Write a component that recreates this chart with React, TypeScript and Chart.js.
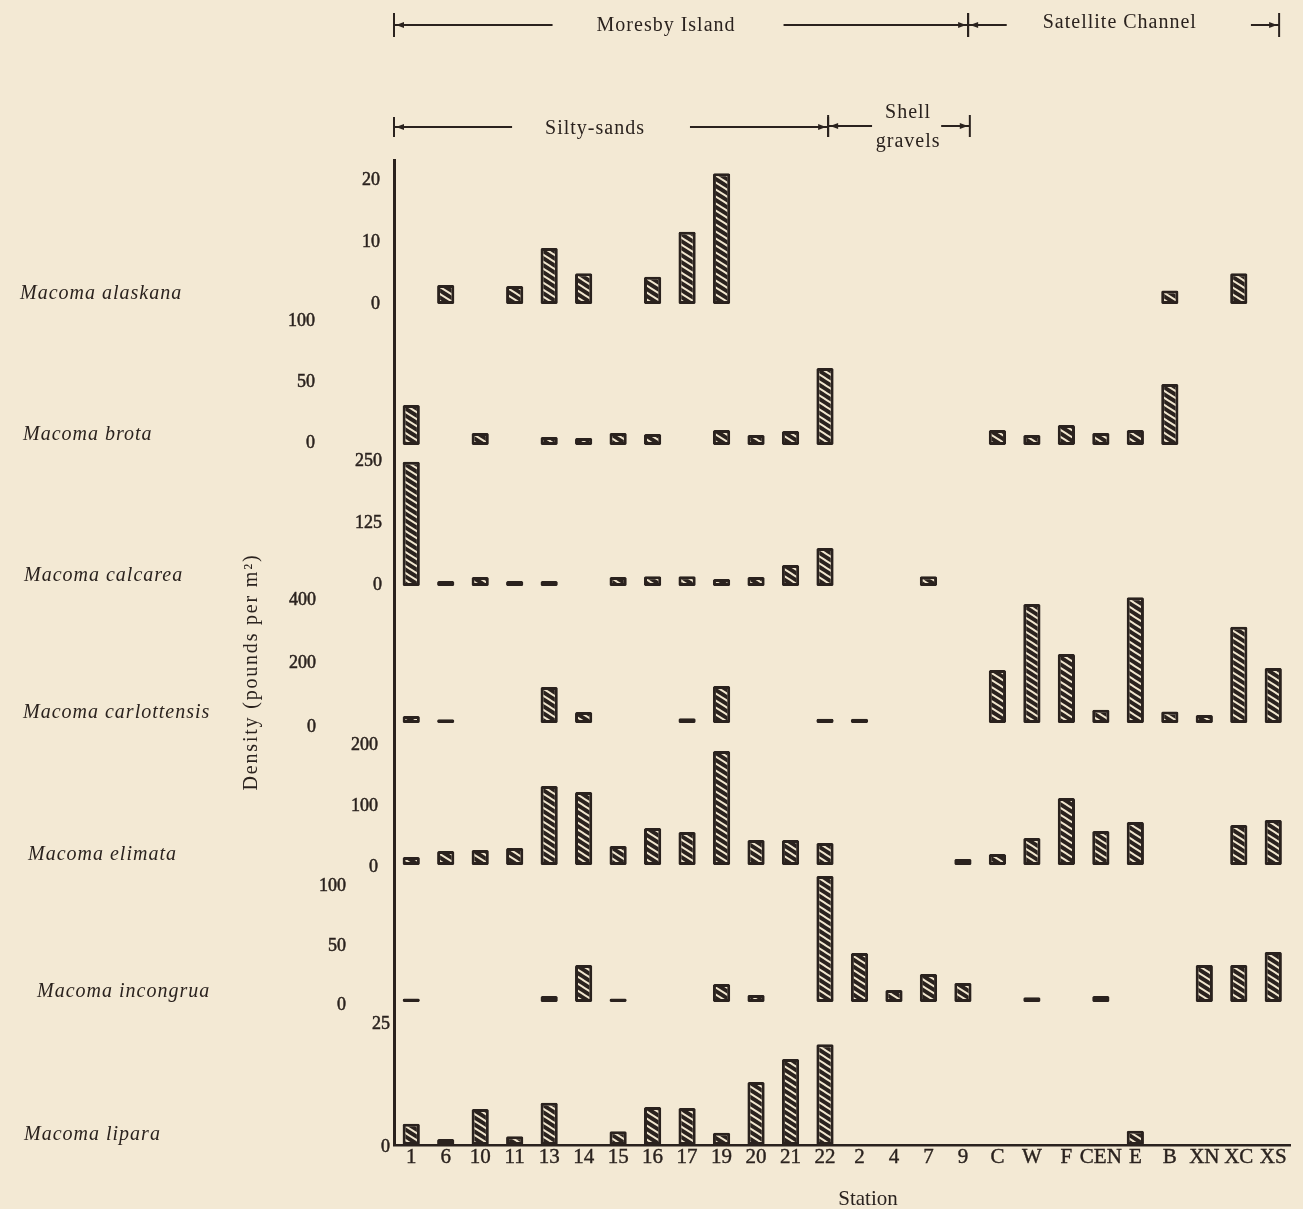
import React, { useEffect, useRef } from "react";
import { Chart, registerables } from "chart.js";

Chart.register(...registerables);

// ---------- data ----------
const stations = ["1", "6", "10", "11", "13", "14", "15", "16", "17", "19", "20", "21", "22", "2", "4", "7", "9", "C", "W", "F", "CEN", "E", "B", "XN", "XC", "XS"];

const speciesNames = ["Macoma alaskana", "Macoma brota", "Macoma calcarea", "Macoma carlottensis", "Macoma elimata", "Macoma incongrua", "Macoma lipara"];

//                1     6     10    11    13     14    15    16    17    19     20    21    22     2     4     7     9     C     W      F      CEN   E      B     XN    XC    XS
const alaskana = [null, 3.1, null, 2.9, 9.1, 5.0, null, 4.4, 11.7, 21.2, null, null, null, null, null, null, null, null, null, null, null, null, 2.2, null, 5.0, null];
const brota = [32.9, null, 9.9, null, 6.6, 5.8, 9.9, 9.0, null, 12.3, 8.2, 11.5, 63.3, null, null, null, null, 12.3, 8.2, 16.4, 9.9, 12.3, 50.2, null, null, null];
const calcarea = [252, 10, 18, 10, 10, null, 18, 20, 20, 14, 18, 42.6, 77, null, null, 20, null, null, null, null, null, null, null, null, null, null];
const carlottensis = [22, 12, null, null, 113.7, 34.7, null, null, 15, 116.8, null, null, 13, 13, null, null, null, 167, 375.7, 217.9, 42, 397, 36, 25, 304, 173.7];
const elimata = [13, 23, 24.7, 28, 129.8, 120, 31.2, 60.8, 54.2, 187.3, 41, 41, 36.2, null, null, null, 10, 18, 44.4, 110, 55.9, 70.7, null, null, 65.7, 74];
const incongrua = [3, null, null, null, 5, 31.3, 3, null, null, 15.2, 6, null, 106.5, 41.4, 10.1, 23.7, 16.1, null, 4, null, 5, null, null, 31.3, 31.3, 42.3];
const lipara = [4.3, 1.2, 7.3, 1.8, 8.6, null, 2.8, 7.7, 7.5, 2.5, 12.8, 17.5, 20.5, null, null, null, null, null, null, null, null, 2.9, null, null, null, null];

const alaskanaTicks = [0, 10, 20];
const brotaTicks = [0, 50, 100];
const calcareaTicks = [0, 125, 250];
const carlottensisTicks = [0, 200, 400];
const elimataTicks = [0, 100, 200];
const incongruaTicks = [0, 50, 100];
const liparaTicks = [0, 25];

const yTitle = "Density (pounds per m²)";
const xTitle = "Station";

// ---------- layout / style (not data) ----------
const rowData = [alaskana, brota, calcarea, carlottensis, elimata, incongrua, lipara];
const rowTicks = [alaskanaTicks, brotaTicks, calcareaTicks, carlottensisTicks, elimataTicks, incongruaTicks, liparaTicks];
const axisRange = [[-1.3, 23.36], [-6.58, 109.4], [-12.2, 269.8], [-25.3, 413.6], [-13.1, 220.2], [-5.9, 109.0], [0, 27.64]];
const bandWeight = [152, 141, 139, 139, 142, 136, 136];
const tickPad = [14, 79, 12, 78, 16, 48, 4];
const tickShift = [0, -2, -1, 4, 2, 3, 2];
const nameIndent = [20, 23, 24, 23, 28, 37, 24];

const brackets = [
  { text: ["Moresby Island"], base: 31, lineY: 25, tick: 12, from: -0.5, to: 16.15, center: 7.39, gapL: 44, gapR: 48 },
  { text: ["Satellite Channel"], base: 28, lineY: 25, tick: 12, from: 16.15, to: 25.17, center: 20.55, gapL: 36, gapR: 54 },
  { text: ["Silty-sands"], base: 134, lineY: 127, tick: 10, from: -0.5, to: 12.09, center: 5.33, gapL: 33, gapR: 45 },
  { text: ["Shell", "gravels"], base: 118, lineY: 126, tick: 11, from: 12.09, to: 16.2, center: 14.41, gapL: 13, gapR: 10 },
];

const INK = "#2a221e";
const PAPER = "#f3e9d4";
const STRIPE = "#f1e6cf";
const SERIF = '"Liberation Serif", "DejaVu Serif", serif';

function makeHatch(): CanvasPattern | string {
  const c = document.createElement("canvas");
  c.width = 11;
  c.height = 7;
  const g = c.getContext("2d");
  if (!g) return INK;
  g.fillStyle = INK;
  g.fillRect(0, 0, 11, 7);
  g.strokeStyle = STRIPE;
  g.lineWidth = 1.9;
  const slope = 7 / 11;
  for (const k of [-7, 0, 7]) {
    g.beginPath();
    g.moveTo(-1, k - slope);
    g.lineTo(12, k + 12 * slope);
    g.stroke();
  }
  return g.createPattern(c, "repeat") || INK;
}

const decorPlugin = {
  id: "decor",
  beforeDraw(chart: any) {
    const ctx = chart.ctx;
    ctx.save();
    ctx.fillStyle = PAPER;
    ctx.fillRect(0, 0, chart.width, chart.height);
    ctx.restore();
  },
  afterDraw(chart: any) {
    const ctx = chart.ctx;
    const xs = chart.scales.x;
    ctx.save();
    ctx.fillStyle = INK;
    ctx.strokeStyle = INK;

    // species names
    ctx.font = `italic 20px ${SERIF}`;
    ctx.letterSpacing = "1px";
    ctx.textAlign = "left";
    ctx.textBaseline = "alphabetic";
    speciesNames.forEach((name, i) => {
      const s = chart.scales["y" + i];
      ctx.fillText(name, nameIndent[i], s.getPixelForValue(0) - 5);
    });

    // y title
    ctx.save();
    ctx.translate(252, 672);
    ctx.rotate(-Math.PI / 2);
    ctx.textAlign = "center";
    ctx.textBaseline = "middle";
    ctx.font = `20px ${SERIF}`;
    ctx.letterSpacing = "1.8px";
    ctx.fillText(yTitle, 0, 0);
    ctx.restore();

    // x title
    ctx.textAlign = "center";
    ctx.textBaseline = "alphabetic";
    ctx.font = `21px ${SERIF}`;
    ctx.letterSpacing = "0px";
    ctx.fillText(xTitle, 868, 1205);

    // brackets
    ctx.font = `20px ${SERIF}`;
    ctx.letterSpacing = "1px";
    ctx.lineWidth = 2;
    const seg = (a: number, b: number, c: number, d: number) => {
      ctx.beginPath();
      ctx.moveTo(a, b);
      ctx.lineTo(c, d);
      ctx.stroke();
    };
    const arrow = (tipX: number, y: number, dir: number) => {
      ctx.beginPath();
      ctx.moveTo(tipX, y);
      ctx.lineTo(tipX + dir * 8, y - 3);
      ctx.lineTo(tipX + dir * 8, y + 3);
      ctx.closePath();
      ctx.fill();
    };
    brackets.forEach((b) => {
      const x1 = xs.getPixelForValue(b.from);
      const x2 = xs.getPixelForValue(b.to);
      const xc = xs.getPixelForValue(b.center);
      const w = ctx.measureText(b.text[0]).width;
      b.text.forEach((t, k) => ctx.fillText(t, xc, b.base + k * 29));
      seg(x1, b.lineY, xc - w / 2 - b.gapL, b.lineY);
      seg(xc + w / 2 + b.gapR, b.lineY, x2, b.lineY);
      seg(x1, b.lineY - b.tick, x1, b.lineY + b.tick);
      seg(x2, b.lineY - b.tick, x2, b.lineY + b.tick);
      arrow(x1 + 2, b.lineY, 1);
      arrow(x2 - 2, b.lineY, -1);
    });
    ctx.letterSpacing = "0px";
    ctx.restore();
  },
};

export default function App() {
  const canvasRef = useRef<HTMLCanvasElement | null>(null);

  useEffect(() => {
    const canvas = canvasRef.current;
    if (!canvas) return;
    const hatch = makeHatch();

    const scales: any = {
      x: {
        type: "category",
        labels: stations,
        offset: true,
        position: "bottom",
        grid: { display: false, drawTicks: false },
        border: { display: true, color: INK, width: 2.5 },
        ticks: {
          color: INK,
          font: { family: SERIF, size: 21 },
          padding: 0,
          maxRotation: 0,
          autoSkip: false,
          textStrokeColor: INK,
          textStrokeWidth: 0.4,
        },
        afterFit: (s: any) => {
          s.height = 64;
        },
      },
    };
    // define bottom row first: stacked left axes are placed in reverse order
    for (let i = rowData.length - 1; i >= 0; i--) {
      const ticks = rowTicks[i];
      scales["y" + i] = {
        type: "linear",
        position: "left",
        stack: "rows",
        stackWeight: bandWeight[i],
        weight: rowData.length - i,
        min: axisRange[i][0],
        max: axisRange[i][1],
        grid: { display: false, drawTicks: false },
        border: { display: true, color: INK, width: 3 },
        ticks: {
          color: INK,
          font: { family: SERIF, size: 18 },
          padding: tickPad[i],
          labelOffset: tickShift[i],
          textStrokeColor: INK,
          textStrokeWidth: 0.5,
        },
        afterBuildTicks: (s: any) => {
          s.ticks = ticks.map((v) => ({ value: v }));
        },
        afterFit: (s: any) => {
          s.width = 394;
          s.paddingTop = 0;
          s.paddingBottom = 0;
        },
      };
    }

    const datasets = rowData.map((data, i) => ({
      label: speciesNames[i],
      data,
      yAxisID: "y" + i,
      xAxisID: "x",
      grouped: false,
      backgroundColor: hatch,
      borderColor: INK,
      borderWidth: 3,
      borderSkipped: false,
      borderRadius: 1.5,
      barPercentage: 1,
      categoryPercentage: 0.5,
    }));

    const chart = new Chart(canvas, {
      type: "bar",
      data: { labels: stations, datasets: datasets as any },
      options: {
        responsive: false,
        devicePixelRatio: 1,
        animation: false,
        events: [],
        layout: { padding: { top: 160, right: 12.5, bottom: 0, left: 0 } },
        plugins: { legend: { display: false }, tooltip: { enabled: false }, title: { display: false } },
        scales,
      } as any,
      plugins: [decorPlugin as any],
    });
    return () => chart.destroy();
  }, []);

  return (
    <div style={{ position: "absolute", left: 0, top: 0, width: 1303, height: 1209, background: PAPER }}>
      <canvas ref={canvasRef} width={1303} height={1209} style={{ display: "block", width: 1303, height: 1209 }} />
    </div>
  );
}
